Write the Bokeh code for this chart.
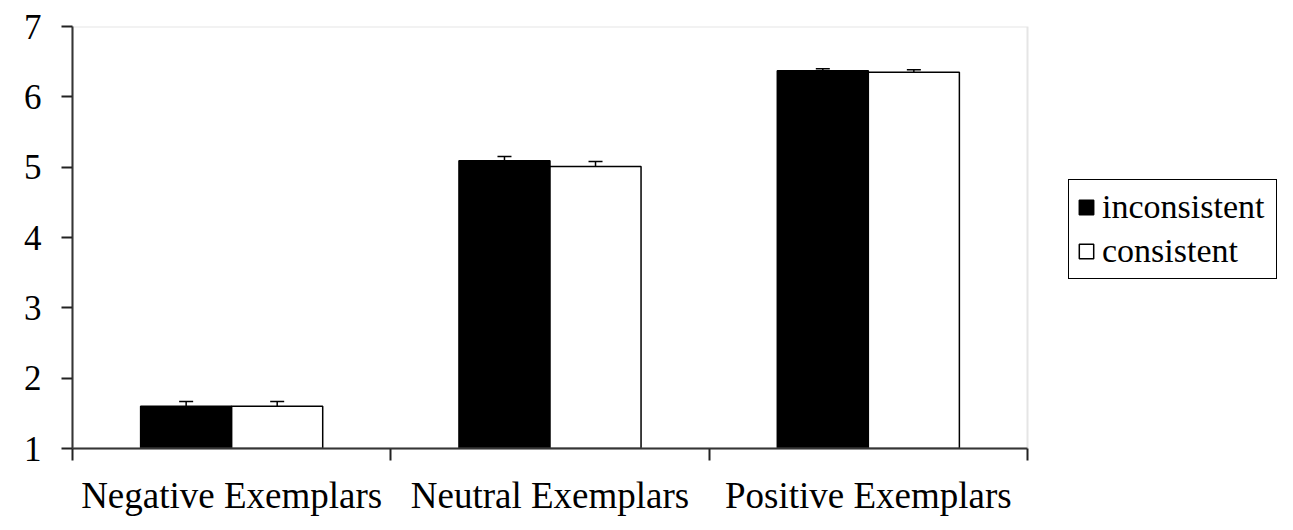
from bokeh.plotting import figure
from bokeh.models import (ColumnDataSource, FixedTicker, Range1d, Legend, LegendItem,
                          Whisker, TeeHead, BoxAnnotation)
from bokeh.embed import file_html
from bokeh.resources import INLINE

categories = ["Negative Exemplars", "Neutral Exemplars", "Positive Exemplars"]
inconsistent = [1.60, 5.09, 6.37]
consistent = [1.60, 5.01, 6.35]
inconsistent_err = [0.07, 0.06, 0.03]
consistent_err = [0.07, 0.07, 0.035]
y_ticks = [1, 2, 3, 4, 5, 6, 7]

FONT = "Liberation Serif"
BAR_W = 0.286
X0, X1 = 0.5, 3.5          # data extent of the category axis
Y0, Y1 = 1, 7
LEFT, TOP, BOTTOM = 72, 26, 70
W, H = 1277, 518
PLOT_W = 955                # pixel width of the data area (x from X0 to X1)
FRAME_W = W - LEFT
x_end = X0 + (X1 - X0) * FRAME_W / PLOT_W

pos = [i + 1 for i in range(len(categories))]
x_inc = [c - BAR_W / 2 for c in pos]
x_con = [c + BAR_W / 2 for c in pos]

src_inc = ColumnDataSource(dict(x=x_inc, top=inconsistent,
                                upper=[v + e for v, e in zip(inconsistent, inconsistent_err)]))
src_con = ColumnDataSource(dict(x=x_con, top=consistent,
                                upper=[v + e for v, e in zip(consistent, consistent_err)]))

p = figure(width=W, height=H, x_range=Range1d(X0, x_end), y_range=Range1d(Y0, Y1),
           output_backend="svg", toolbar_location=None,
           min_border_left=LEFT, min_border_right=0, min_border_top=TOP, min_border_bottom=BOTTOM)
p.background_fill_color = "white"
p.border_fill_color = "white"
p.outline_line_color = None
p.xgrid.visible = False
p.ygrid.visible = False

# plot-area border (gray) limited to the data area
p.add_layout(BoxAnnotation(left=X0, right=X1, bottom=Y0, top=Y1,
                           fill_alpha=0, line_color="#a8a8a8", line_width=2))

r_inc = p.vbar(x="x", top="top", bottom=Y0, width=BAR_W, source=src_inc,
               fill_color="black", line_color="black", line_width=1.5)
r_con = p.vbar(x="x", top="top", bottom=Y0, width=BAR_W, source=src_con,
               fill_color="white", line_color="black", line_width=1.5)

for src in (src_inc, src_con):
    w = Whisker(base="x", upper="upper", lower="top", source=src,
                line_color="black", line_width=1.5,
                upper_head=TeeHead(size=14, line_color="black", line_width=1.5),
                lower_head=None)
    p.add_layout(w)

# x axis
xa = p.xaxis[0]
xa.bounds = (X0, X1)
xa.ticker = FixedTicker(ticks=pos, minor_ticks=[X0 + i for i in range(len(categories) + 1)])
xa.major_label_overrides = {c: lab for c, lab in zip(pos, categories)}
xa.major_tick_line_color = None
xa.major_tick_out = 0
xa.major_tick_in = 0
xa.minor_tick_out = 12
xa.minor_tick_in = 0
xa.minor_tick_line_color = "#222222"
xa.minor_tick_line_width = 2
xa.axis_line_color = "#222222"
xa.axis_line_width = 2
xa.major_label_text_font = FONT
xa.major_label_text_font_size = "37px"
xa.major_label_text_color = "black"
xa.major_label_standoff = 14

# y axis
ya = p.yaxis[0]
ya.ticker = FixedTicker(ticks=y_ticks)
ya.major_tick_out = 11
ya.major_tick_in = 0
ya.major_tick_line_color = "#222222"
ya.major_tick_line_width = 2
ya.minor_tick_line_color = None
ya.axis_line_color = "#222222"
ya.axis_line_width = 2
ya.major_label_text_font = FONT
ya.major_label_text_font_size = "35px"
ya.major_label_text_color = "black"
ya.major_label_standoff = 20

legend = Legend(items=[LegendItem(label="inconsistent", renderers=[r_inc]),
                       LegendItem(label="consistent", renderers=[r_con])],
                location=(PLOT_W + 41, 169), margin=0)
legend.label_text_font = FONT
legend.label_text_font_size = "34px"
legend.label_text_color = "black"
legend.glyph_width = 18
legend.glyph_height = 18
legend.label_standoff = 7
legend.label_width = 166
legend.padding = 8
legend.spacing = 6
legend.border_line_color = "black"
legend.border_line_alpha = 1
legend.border_line_width = 1.5
legend.background_fill_color = "white"
legend.background_fill_alpha = 1
p.add_layout(legend)

open("out.html", "w").write(file_html(p, INLINE))
